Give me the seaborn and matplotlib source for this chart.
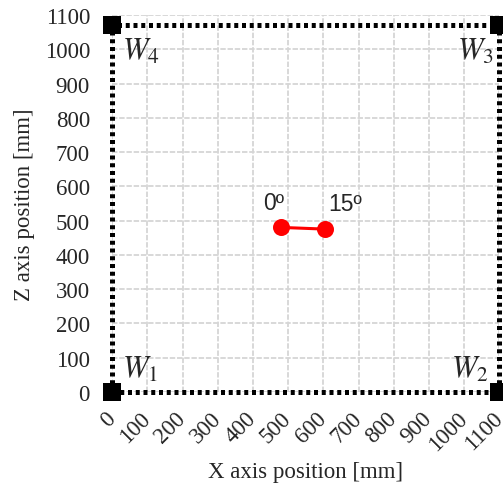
import matplotlib
matplotlib.use("Agg")
import matplotlib.pyplot as plt
import seaborn as sns
import pandas as pd

# Data
wall_x = [0, 1100, 1100, 0, 0]
wall_z = [0, 0, 1070, 1070, 0]
wall_labels = ["$W_1$", "$W_2$", "$W_3$", "$W_4$"]
angle_labels = ["0º", "15º"]
pos_x = [480, 605]
pos_z = [480, 475]
ticks = list(range(0, 1101, 100))

sns.set_style("whitegrid")
plt.rcParams["font.family"] = ["Liberation Serif", "DejaVu Serif"]
plt.rcParams["mathtext.fontset"] = "stix"

fig = plt.figure(figsize=(5.03, 4.85), dpi=100)
ax = fig.add_axes([0.223, 0.19, 0.77, 0.777])

ax.grid(True, color="#d6d6d6", linewidth=1.3, linestyle=(0, (3, 1)))
for s in ax.spines.values():
    s.set_visible(False)

# boundary (dotted)
ax.plot(wall_x, wall_z, color="black", linewidth=3.6, linestyle=(0, (0.8, 0.75)),
        dash_capstyle="butt", zorder=3, clip_on=False)
# corners
ax.scatter(wall_x[:4], wall_z[:4], marker="s", s=150, color="black", zorder=4,
           clip_on=False, linewidths=0)

# positions
df = pd.DataFrame({"x": pos_x, "z": pos_z, "label": angle_labels})
sns.lineplot(data=df, x="x", y="z", color="red", linewidth=2.2, ax=ax, sort=False, zorder=5)
sns.scatterplot(data=df, x="x", y="z", color="red", s=150, linewidth=0, ax=ax, zorder=6)
for x, z, t, ha, dx in zip(pos_x, pos_z, angle_labels, ["right", "left"], [2, 2]):
    ax.annotate(t, (x, z), xytext=(dx, 10), textcoords="offset points",
                family=["Liberation Sans", "DejaVu Sans"], fontsize=16.5,
                ha=ha, va="bottom")

# wall labels
offs = [(7, 6, "left", "bottom"), (-8, 6, "right", "bottom"),
        (-4, -8, "right", "top"), (7, -8, "left", "top")]
for (x, z, t, (dx, dz, ha, va)) in zip(wall_x[:4], wall_z[:4], wall_labels, offs):
    ax.annotate(t, (x, z), xytext=(dx, dz), textcoords="offset points",
                fontsize=22, ha=ha, va=va)

ax.set_xlim(0, 1100)
ax.set_ylim(0, 1100)
ax.set_xticks(ticks)
ax.set_yticks(ticks)
ax.set_xticklabels([str(t) for t in ticks], rotation=45, ha="right", va="center",
                   rotation_mode="anchor", fontsize=16.5)
ax.set_yticklabels([str(t) for t in ticks], fontsize=16.5)
ax.tick_params(axis="both", length=0)
ax.tick_params(axis="y", pad=16)
ax.tick_params(axis="x", pad=16.5)
ax.set_xlabel("X axis position [mm]", fontsize=16.5)
ax.set_ylabel("Z axis position [mm]", fontsize=16.5)
ax.xaxis.set_label_coords(0.5, -0.183)
ax.yaxis.set_label_coords(-0.199, 0.5)

fig.savefig("out.png", dpi=100)
